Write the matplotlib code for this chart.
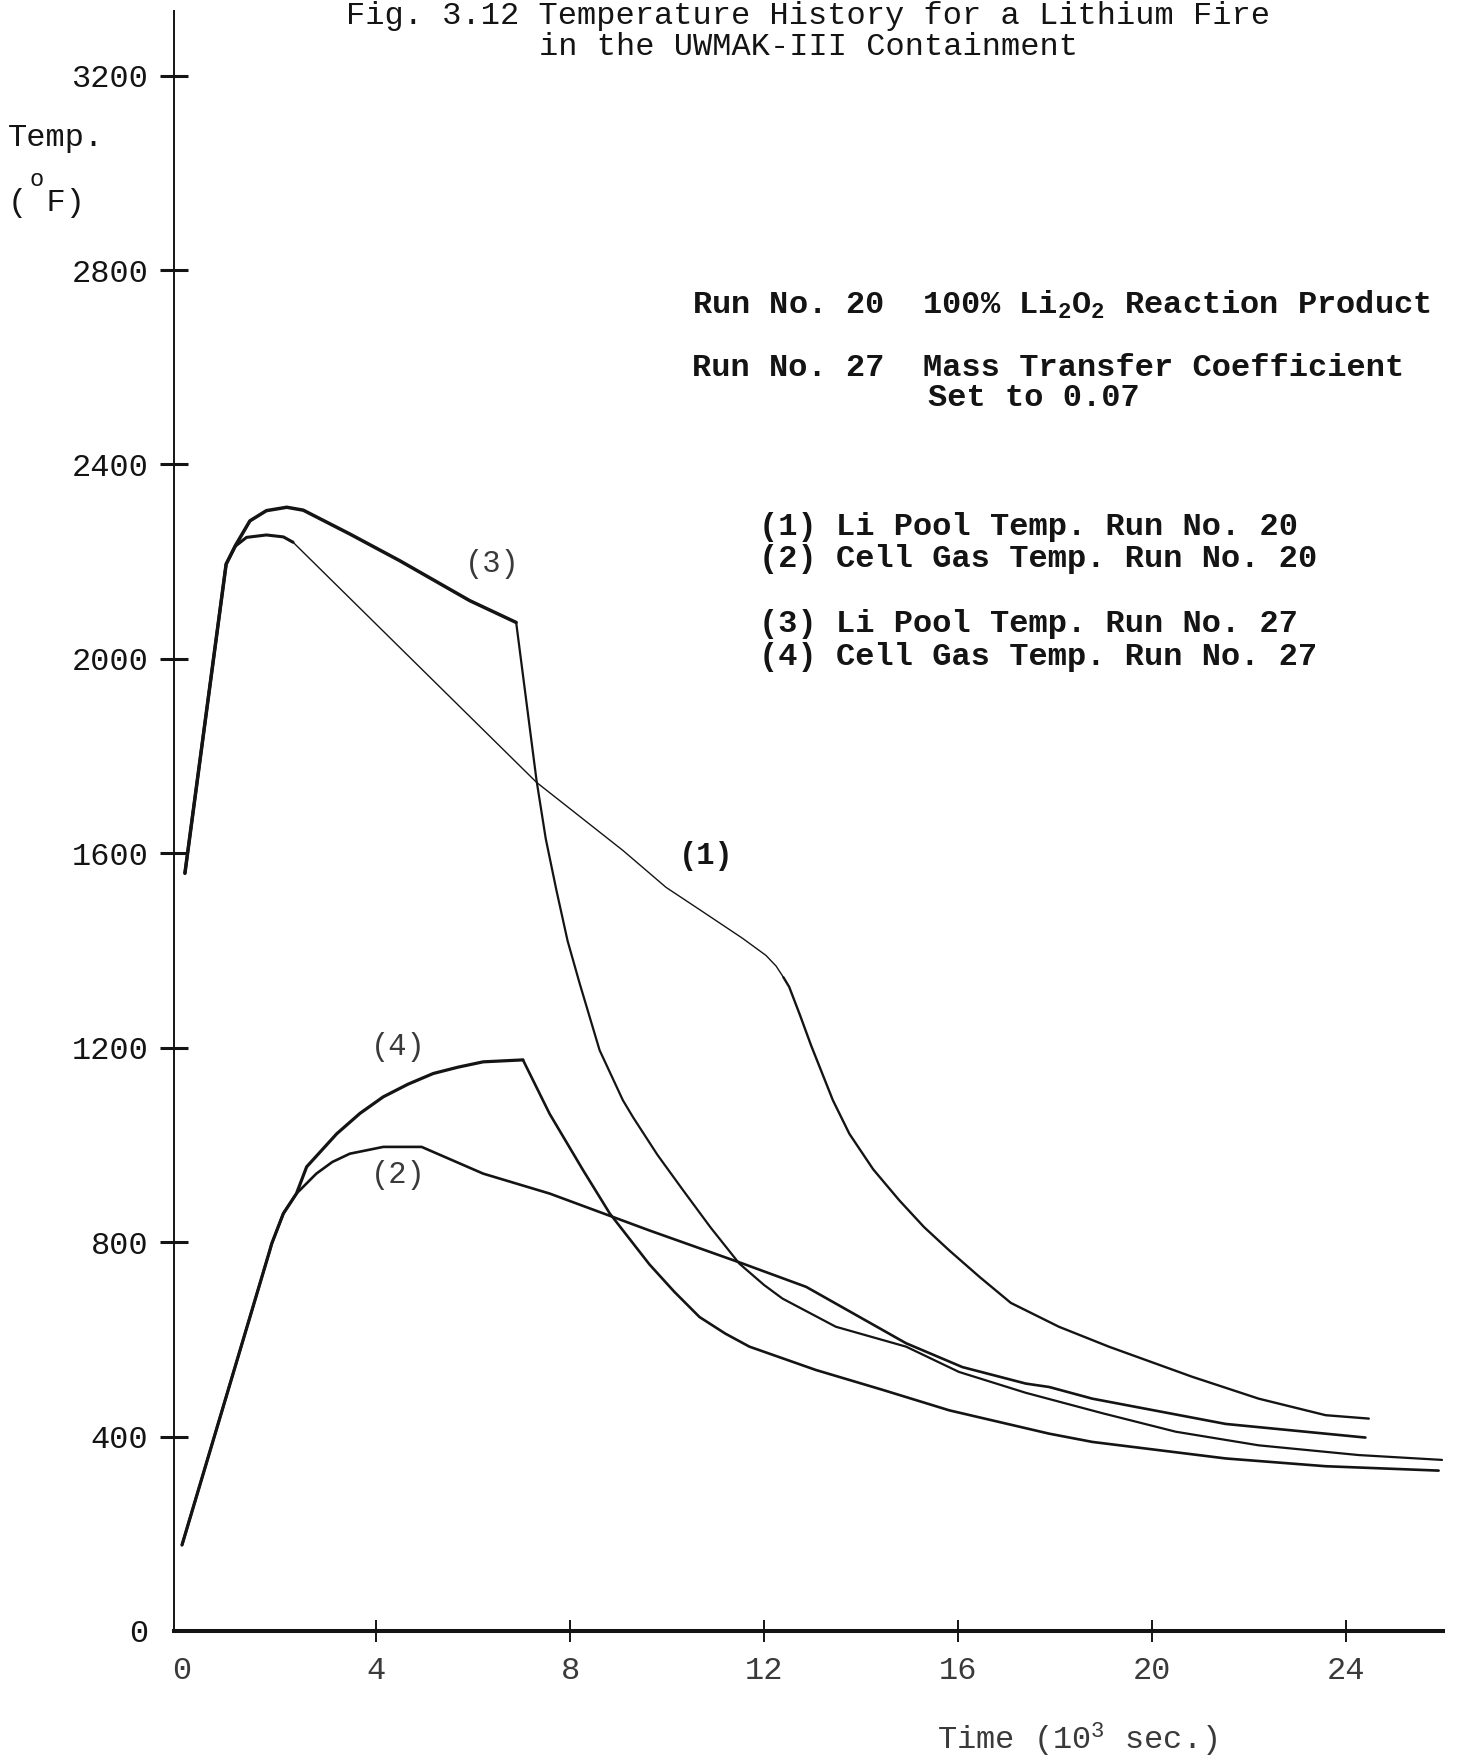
import matplotlib
matplotlib.use("Agg")
import matplotlib.pyplot as plt

plt.rcParams.update({
    "font.family": ["Liberation Mono", "DejaVu Sans Mono"],
    "mathtext.fontset": "custom",
    "mathtext.rm": "Liberation Mono",
    "mathtext.it": "Liberation Mono",
    "mathtext.bf": "Liberation Mono:bold",
    "mathtext.default": "regular",
})

# time in 10^3 s, temperature in deg F
t_pool20 = [0.06, 0.91, 1.10, 1.33, 1.74, 2.09, 2.29, 7.31, 9.09, 9.98, 10.75, 11.56,
            12.04, 12.25, 12.40, 12.52, 12.75, 12.97, 13.42, 13.76, 14.25, 14.79,
            15.30, 15.82, 16.45, 17.09, 18.08, 19.11, 20.83, 22.20, 23.58, 24.47]
T_pool20 = [1559, 2195, 2232, 2250, 2255, 2251, 2240, 1746, 1606, 1530, 1479, 1425,
            1390, 1368, 1345, 1325, 1265, 1205, 1092, 1023, 950, 886,
            831, 783, 728, 675, 626, 585, 523, 478, 444, 437]

t_gas20 = [0.0, 1.81, 1.85, 2.09, 2.36, 2.77, 3.10, 3.46, 4.15, 4.94, 6.21, 7.58,
           9.64, 11.56, 12.87, 14.93, 16.09, 17.40, 17.88, 18.77, 21.52, 24.40]
T_gas20 = [177, 783, 797, 859, 900, 941, 965, 982, 996, 996, 941, 900,
           824, 756, 708, 592, 543, 509, 502, 478, 426, 398]

t_pool27 = [0.06, 0.91, 1.10, 1.40, 1.74, 2.16, 2.50, 3.46, 4.49, 5.93, 6.89, 7.31,
            7.50, 7.72, 7.95, 8.20, 8.61, 9.09, 9.30, 9.80, 10.33, 10.90, 11.49,
            12.00, 12.38, 13.48, 14.93, 16.02, 17.40, 18.98, 20.49, 22.20, 24.26,
            25.98]
T_pool27 = [1559, 2195, 2233, 2284, 2305, 2312, 2306, 2257, 2202, 2120, 2075, 1750,
            1630, 1524, 1420, 1332, 1195, 1092, 1057, 980, 907, 830, 756,
            712, 684, 626, 585, 533, 490, 448, 410, 382, 362,
            352]

t_gas27 = [0.0, 1.81, 1.85, 2.09, 2.36, 2.57, 3.19, 3.67, 4.15, 4.66, 5.18, 5.69,
           6.21, 7.03, 7.58, 8.27, 8.82, 9.64, 10.15, 10.67, 11.20, 11.70, 13.07,
           14.45, 15.82, 17.88, 18.77, 21.52, 23.58, 25.91]
T_gas27 = [177, 783, 797, 859, 900, 955, 1023, 1065, 1099, 1125, 1147, 1160,
           1171, 1175, 1064, 948, 859, 754, 698, 646, 612, 585, 537,
           496, 454, 406, 389, 355, 339, 330]

x_ticks = [0, 4, 8, 12, 16, 20, 24]
y_ticks = [0, 400, 800, 1200, 1600, 2000, 2400, 2800, 3200]

W, H = 1466, 1757
INK = "#141414"
FADED = "#3a3a3a"


def px(x, y):
    """pixel position (from top-left) -> figure fraction"""
    return x / W, 1 - y / H


fig = plt.figure(figsize=(W / 100, H / 100), dpi=100)
ax = fig.add_axes([174 / W, 1 - 1631 / H, (1443 - 174) / W, (1631 - 11) / H])
ax.set_xlim(-0.165, 26.0)
ax.set_ylim(0, 3333)

for s in ("top", "right"):
    ax.spines[s].set_visible(False)
ax.spines["left"].set_linewidth(1.4)
ax.spines["bottom"].set_linewidth(2.9)
ax.spines["left"].set_color(INK)
ax.spines["bottom"].set_color(INK)

ax.set_xticks(x_ticks)
ax.set_yticks(y_ticks)
ax.set_xticklabels([str(v) for v in x_ticks], fontsize=23, color=FADED)
ax.set_yticklabels([str(v) for v in y_ticks], fontsize=23, color=INK)
ax.tick_params(axis="y", direction="inout", length=20, width=2.2, pad=8.5, colors=INK)
ax.tick_params(axis="x", direction="inout", length=16, width=1.4, pad=10, colors=INK)
ax.xaxis.get_major_ticks()[0].tick1line.set_visible(False)
ax.yaxis.get_major_ticks()[0].tick1line.set_visible(False)
for lab in ax.get_xticklabels():
    lab.set_color(FADED)

kw = dict(color=INK, solid_capstyle="round", solid_joinstyle="round")

# (1) Li pool, run 20: bold rise, thin cooling line, medium after the knee
ax.plot(t_pool20[:7], T_pool20[:7], lw=2.2, **kw)
ax.plot(t_pool20[6:15], T_pool20[6:15], lw=1.0, **kw)
ax.plot(t_pool20[14:], T_pool20[14:], lw=1.7, **kw)

# (3) Li pool, run 27
ax.plot(t_pool27[:11], T_pool27[:11], lw=2.5, **kw)
ax.plot(t_pool27[10:], T_pool27[10:], lw=1.6, **kw)

# (2) cell gas, run 20
ax.plot(t_gas20, T_gas20, lw=1.9, **kw)

# (4) cell gas, run 27
ax.plot(t_gas27[:14], T_gas27[:14], lw=2.3, **kw)
ax.plot(t_gas27[13:], T_gas27[13:], lw=1.9, **kw)

# curve tags
ax.text(6.39, 2196, "(3)", fontsize=22, color=FADED, ha="center", va="center")
ax.text(10.81, 1595, "(1)", fontsize=22, color=INK, ha="center", va="center",
        fontweight="bold")
ax.text(4.46, 1201, "(4)", fontsize=22, color=FADED, ha="center", va="center")
ax.text(4.46, 938, "(2)", fontsize=22, color=FADED, ha="center", va="center")

# title
fig.text(*px(808, 16), "Fig. 3.12 Temperature History for a Lithium Fire",
         fontsize=23, ha="center", va="center", color=INK)
fig.text(*px(808, 47), "in the UWMAK-III Containment",
         fontsize=23, ha="center", va="center", color=INK)

# y label
fig.text(*px(8, 138), "Temp.", fontsize=23, ha="left", va="center", color=INK)
fig.text(*px(8, 203), "( F)", fontsize=23, ha="left", va="center", color=INK)
fig.text(*px(37, 180), "o", fontsize=17, ha="center", va="center", color=INK)

# x label
fig.text(*px(1077, 1740), "Time (10$^{3}$ sec.)", fontsize=23, ha="center",
         va="center", color=FADED)

# run descriptions
fig.text(*px(692, 305), "Run No. 20  100% Li$_2$O$_2$ Reaction Product",
         fontsize=23, ha="left", va="center", color=INK, fontweight="bold")
fig.text(*px(692, 368), "Run No. 27  Mass Transfer Coefficient",
         fontsize=23, ha="left", va="center", color=INK, fontweight="bold")
fig.text(*px(928, 398), "Set to 0.07",
         fontsize=23, ha="left", va="center", color=INK, fontweight="bold")

# key
key = [
    (527, "(1) Li Pool Temp. Run No. 20"),
    (559, "(2) Cell Gas Temp. Run No. 20"),
    (624, "(3) Li Pool Temp. Run No. 27"),
    (657, "(4) Cell Gas Temp. Run No. 27"),
]
for y, s in key:
    fig.text(*px(759, y), s, fontsize=23, ha="left", va="center", color=INK,
             fontweight="bold")

fig.savefig("out.png", dpi=100, facecolor="white")
